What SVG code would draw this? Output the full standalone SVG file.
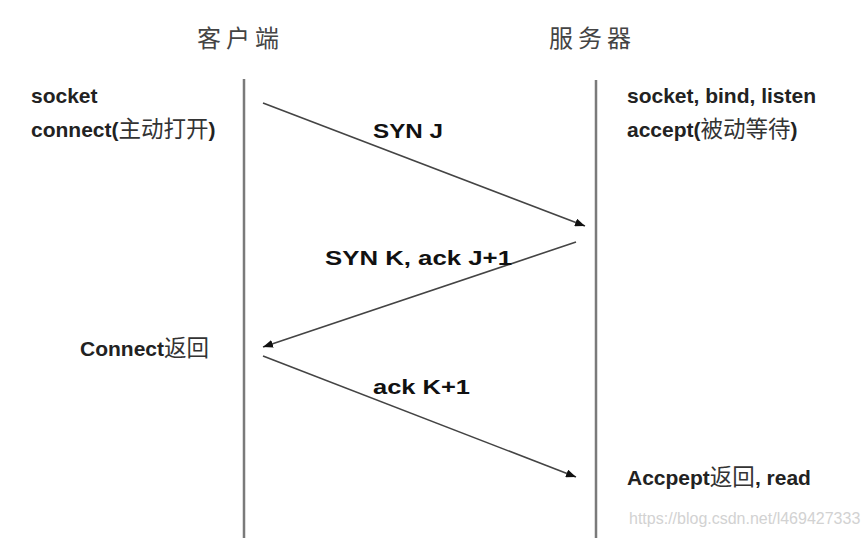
<svg xmlns="http://www.w3.org/2000/svg" width="868" height="538" viewBox="0 0 868 538">
  <defs>
    <marker id="ah" viewBox="0 0 10 8" refX="10" refY="4" markerWidth="10" markerHeight="8" markerUnits="userSpaceOnUse" orient="auto">
      <path d="M0,0 L10,4 L0,8 Z" fill="#111"/>
    </marker>
    <style>
      .title { font-family: "Noto Sans CJK SC", "Liberation Sans", sans-serif; font-size: 24px; fill: #444; letter-spacing: 5px; }
      .lbl { font-family: "Liberation Sans", "Noto Sans CJK SC", sans-serif; font-size: 21px; font-weight: bold; fill: #222; }
      .cjk { font-family: "Noto Sans CJK SC", sans-serif; font-size: 22.5px; font-weight: normal; fill: #333; }
      .msg { font-family: "Liberation Sans", sans-serif; font-size: 21px; font-weight: bold; fill: #111; }
      .life { stroke: #7a7a7a; stroke-width: 2.5; }
      .arrow { stroke: #444; stroke-width: 1.6; fill: none; marker-end: url(#ah); }
      .wm { font-family: "Liberation Sans", sans-serif; font-size: 16px; fill: #d2d2d2; }
    </style>
  </defs>
  <rect width="868" height="538" fill="#ffffff"/>

  <g id="client">
    <text class="title" x="197" y="47">客户端</text>
    <line class="life" x1="244" y1="79" x2="244" y2="538"/>
    <text class="lbl" x="31" y="103">socket</text>
    <text class="lbl" x="31" y="137">connect(<tspan class="cjk">主动打开</tspan>)</text>
    <text class="lbl" x="80" y="356">Connect<tspan class="cjk">返回</tspan></text>
  </g>

  <g id="server">
    <text class="title" x="549" y="47">服务器</text>
    <line class="life" x1="596" y1="80" x2="596" y2="538"/>
    <text class="lbl" x="627" y="103">socket, bind, listen</text>
    <text class="lbl" x="627" y="137">accept(<tspan class="cjk">被动等待</tspan>)</text>
    <text class="lbl" x="627" y="485">Accpept<tspan class="cjk">返回</tspan>, read</text>
  </g>

  <g id="connectors">
    <line class="arrow" x1="263" y1="103" x2="585" y2="226"/>
    <text class="msg" x="373" y="138" textLength="70" lengthAdjust="spacingAndGlyphs">SYN J</text>
    <line class="arrow" x1="576" y1="242" x2="263" y2="347"/>
    <text class="msg" x="325" y="265" textLength="187" lengthAdjust="spacingAndGlyphs">SYN K, ack J+1</text>
    <line class="arrow" x1="263" y1="356" x2="576" y2="477"/>
    <text class="msg" x="373" y="394" textLength="97" lengthAdjust="spacingAndGlyphs">ack K+1</text>
  </g>

  <text class="wm" x="629" y="524">https://blog.csdn.net/l469427333</text>
</svg>
